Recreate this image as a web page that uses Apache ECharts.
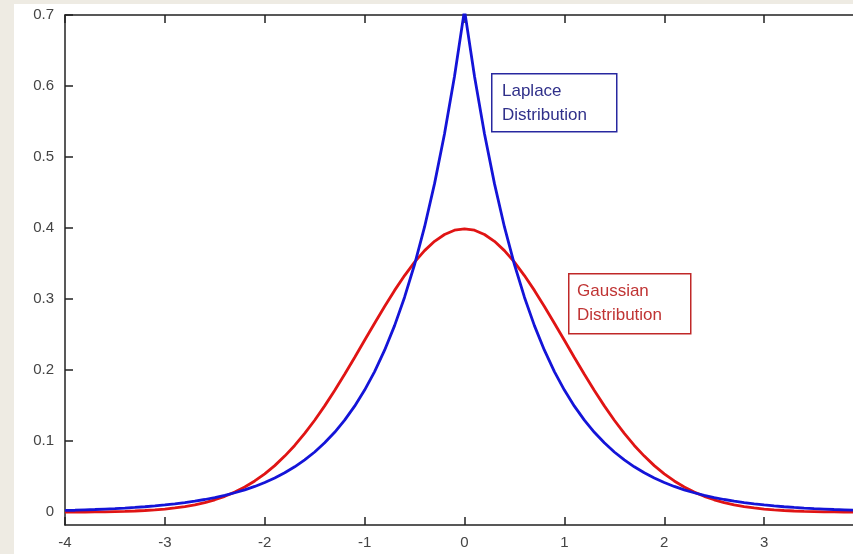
<!DOCTYPE html>
<html lang="en">
<head>
	<meta charset="UTF-8">
	<title>Laplace vs Gaussian</title>
	<style>
		*{margin: 0; padding: 0; box-sizing: border-box;}
		body{
			background-color: #eeebe3;
			width: 853px;
			height: 554px;
			overflow: hidden;
		}
		#view{
			position: absolute;
			left: 14px;
			top: 4px;
			width: 839px;
			height: 550px;
			background-color: #fff;
		}
	</style>
</head>
<body>
	<div id="view"></div>
	<script src="https://cdn.jsdelivr.net/npm/echarts@6/dist/echarts.min.js"></script>
	<script>
	// x positions of the samples
	var xs = [-4.0,-3.9,-3.8,-3.7,-3.6,-3.5,-3.4,-3.3,-3.2,-3.1,-3.0,-2.9,-2.8,-2.7,-2.6,-2.5,-2.4,-2.3,-2.2,-2.1,
		-2.0,-1.9,-1.8,-1.7,-1.6,-1.5,-1.4,-1.3,-1.2,-1.1,-1.0,-0.9,-0.8,-0.7,-0.6,-0.5,-0.4,-0.3,-0.2,-0.1,
		0.0,0.1,0.2,0.3,0.4,0.5,0.6,0.7,0.8,0.9,1.0,1.1,1.2,1.3,1.4,1.5,1.6,1.7,1.8,1.9,
		2.0,2.1,2.2,2.3,2.4,2.5,2.6,2.7,2.8,2.9,3.0,3.1,3.2,3.3,3.4,3.5,3.6,3.7,3.8,3.9,4.0];
	var laplace = [0.0025,0.0028,0.0033,0.0038,0.0044,0.0050,0.0058,0.0067,0.0077,0.0088,0.0102,0.0117,0.0135,0.0155,0.0179,0.0206,0.0237,0.0274,0.0315,0.0363,
		0.0418,0.0482,0.0555,0.0639,0.0736,0.0848,0.0977,0.1125,0.1296,0.1493,0.1719,0.1980,0.2281,0.2627,0.3027,0.3487,0.4016,0.4626,0.5329,0.6138,
		0.7071,0.6138,0.5329,0.4626,0.4016,0.3487,0.3027,0.2627,0.2281,0.1980,0.1719,0.1493,0.1296,0.1125,0.0977,0.0848,0.0736,0.0639,0.0555,0.0482,
		0.0418,0.0363,0.0315,0.0274,0.0237,0.0206,0.0179,0.0155,0.0135,0.0117,0.0102,0.0088,0.0077,0.0067,0.0058,0.0050,0.0044,0.0038,0.0033,0.0028,0.0025];
	var gaussian = [0.0001,0.0002,0.0003,0.0004,0.0006,0.0009,0.0012,0.0017,0.0024,0.0033,0.0044,0.0060,0.0079,0.0104,0.0136,0.0175,0.0224,0.0283,0.0355,0.0440,
		0.0540,0.0656,0.0790,0.0940,0.1109,0.1295,0.1497,0.1714,0.1942,0.2179,0.2420,0.2661,0.2897,0.3123,0.3332,0.3521,0.3683,0.3814,0.3910,0.3970,
		0.3989,0.3970,0.3910,0.3814,0.3683,0.3521,0.3332,0.3123,0.2897,0.2661,0.2420,0.2179,0.1942,0.1714,0.1497,0.1295,0.1109,0.0940,0.0790,0.0656,
		0.0540,0.0440,0.0355,0.0283,0.0224,0.0175,0.0136,0.0104,0.0079,0.0060,0.0044,0.0033,0.0024,0.0017,0.0012,0.0009,0.0006,0.0004,0.0003,0.0002,0.0001];
	var yTicks = [0, 0.1, 0.2, 0.3, 0.4, 0.5, 0.6, 0.7];

	function pairs(ys){
		return xs.map(function(x, i){ return [x, ys[i]]; });
	}

	var axisCol = '#222';
	var labelFont = {color: '#444', fontSize: 15, fontFamily: 'Liberation Sans'};

	var option = {
		animation: false,
		// plot runs past the right edge of the picture (x = 4 sits off-canvas)
		grid: {left: 51, top: 11, width: 799, bottom: 29, outerBoundsMode: 'none'},
		xAxis: [{
			type: 'value', min: -4, max: 4, interval: 1,
			axisLine: {onZero: false, lineStyle: {color: axisCol, width: 1.5}},
			axisTick: {inside: true, length: 8, lineStyle: {color: axisCol, width: 1.5}},
			axisLabel: Object.assign({margin: 10}, labelFont),
			splitLine: {show: false}
		}, {
			type: 'value', min: -4, max: 4, interval: 1, position: 'top',
			axisLine: {show: true, onZero: false, lineStyle: {color: axisCol, width: 1.5}},
			axisTick: {show: true, inside: true, length: 8, lineStyle: {color: axisCol, width: 1.5}},
			axisLabel: {show: false},
			splitLine: {show: false}
		}],
		yAxis: {
			type: 'value', min: -0.018, max: 0.7,
			axisLine: {show: true, onZero: false, lineStyle: {color: axisCol, width: 1.5}},
			axisTick: {show: true, inside: true, length: 8, customValues: yTicks, lineStyle: {color: axisCol, width: 1.5}},
			axisLabel: Object.assign({margin: 11, customValues: yTicks, formatter: function(v){ return String(Math.round(v * 10) / 10); }}, labelFont),
			splitLine: {show: false}
		},
		series: [{
			name: 'Gaussian', type: 'line', data: pairs(gaussian),
			showSymbol: false, symbol: 'none',
			lineStyle: {color: '#e01414', width: 2.8}
		}, {
			name: 'Laplace', type: 'line', data: pairs(laplace),
			showSymbol: false, symbol: 'none',
			lineStyle: {color: '#1414d8', width: 2.8}
		}],
		graphic: [{
			type: 'rect', left: 477, top: 69,
			shape: {width: 125, height: 58},
			style: {fill: '#fff', stroke: '#2828a0', lineWidth: 1.5}
		}, {
			type: 'text', left: 488, top: 75,
			style: {text: 'Laplace\nDistribution', fill: '#30308a', font: '17px "Liberation Sans"', lineHeight: 24}
		}, {
			type: 'rect', left: 554, top: 269,
			shape: {width: 122, height: 60},
			style: {fill: '#fff', stroke: '#c02828', lineWidth: 1.5}
		}, {
			type: 'text', left: 563, top: 275,
			style: {text: 'Gaussian\nDistribution', fill: '#c03434', font: '17px "Liberation Sans"', lineHeight: 24}
		}]
	};
	var myChart = echarts.init(document.getElementById('view'));
	myChart.setOption(option);
	</script>
</body>
</html>
